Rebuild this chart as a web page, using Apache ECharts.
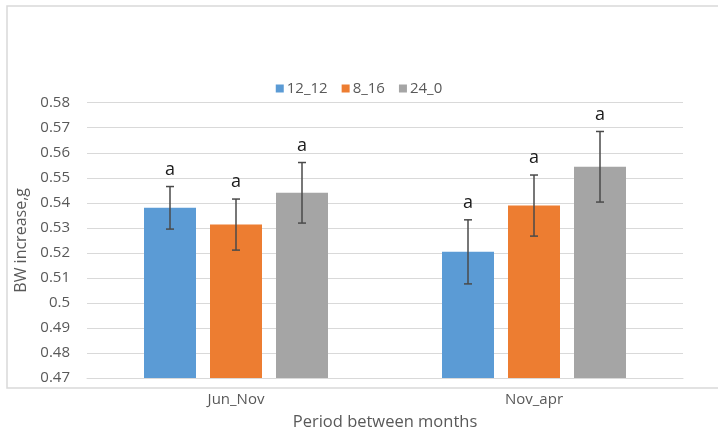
<!DOCTYPE html>
<html>
<head>
<meta charset="utf-8">
<script src="https://cdn.jsdelivr.net/npm/echarts@6/dist/echarts.min.js"></script>
<style>
  html, body { margin: 0; padding: 0; background: #fff; }
  #chart { width: 718px; height: 439px; }
</style>
</head>
<body>
<div id="chart"></div>
<script>
// Body-weight increase by photoperiod, per sampling period
const periods = ['Jun_Nov', 'Nov_apr'];
const seriesNames = ['12_12', '8_16', '24_0'];
const means12_12 = [0.538, 0.5204];
const means8_16 = [0.5313, 0.5389];
const means24_0 = [0.544, 0.5544];
const err12_12 = [0.0085, 0.0128];
const err8_16 = [0.0102, 0.0122];
const err24_0 = [0.0121, 0.0141];
const letters12_12 = ['a', 'a'];
const letters8_16 = ['a', 'a'];
const letters24_0 = ['a', 'a'];

const colors = ['#5b9bd5', '#ed7d31', '#a5a5a5'];
const means = [means12_12, means8_16, means24_0];
const errs = [err12_12, err8_16, err24_0];
const letters = [letters12_12, letters8_16, letters24_0];

const FONT = '"Open Sans", "Liberation Sans", sans-serif';
const BAR_W = 52;
const BAR_GAP = 14;

const chart = echarts.init(document.getElementById('chart'), null, { renderer: 'canvas' });

// Error bars plus significance letters, drawn beside their bar in each group
function errorSeries(k) {
  const data = periods.map((p, i) => [i, means[k][i] - errs[k][i], means[k][i] + errs[k][i], letters[k][i]]);
  return {
    type: 'custom',
    name: seriesNames[k] + ' err',
    z: 10,
    silent: true,
    data: data,
    encode: { x: 0, y: [1, 2] },
    renderItem: function (params, api) {
      const c = api.coord([api.value(0), api.value(2)]);
      const lo = api.coord([api.value(0), api.value(1)]);
      const offset = (k - 1) * (BAR_W + BAR_GAP);
      const x = c[0] + offset;
      const cap = 4;
      const style = { stroke: '#4a4a4a', lineWidth: 1.5 };
      return {
        type: 'group',
        children: [
          { type: 'line', shape: { x1: x, y1: c[1], x2: x, y2: lo[1] }, style: style },
          { type: 'line', shape: { x1: x - cap, y1: c[1], x2: x + cap, y2: c[1] }, style: style },
          { type: 'line', shape: { x1: x - cap, y1: lo[1], x2: x + cap, y2: lo[1] }, style: style },
          {
            type: 'text',
            style: {
              x: x, y: c[1] - 8,
              text: api.value(3),
              align: 'center', verticalAlign: 'bottom',
              font: '18px ' + FONT, fill: '#1a1a1a'
            }
          }
        ]
      };
    }
  };
}

const barSeries = seriesNames.map((name, k) => ({
  type: 'bar',
  name: name,
  data: means[k],
  barWidth: BAR_W,
  barGap: (BAR_GAP / BAR_W * 100) + '%',
  itemStyle: { color: colors[k] }
}));

chart.setOption({
  animation: false,
  backgroundColor: '#fff',
  color: colors,
  graphic: [{
    type: 'rect',
    shape: { x: 7, y: 6, width: 720, height: 382 },
    style: { fill: 'none', stroke: '#d9d9d9', lineWidth: 1.5 },
    silent: true
  }],
  legend: {
    data: seriesNames,
    top: 76,
    left: 'center',
    icon: 'rect',
    itemWidth: 8,
    itemHeight: 8,
    itemGap: 14,
    textStyle: { color: '#595959', fontSize: 15, fontFamily: FONT, padding: [0, 0, 0, -2] }
  },
  grid: { left: 87, right: 35, top: 102.7, bottom: 61 },
  xAxis: {
    type: 'category',
    data: periods,
    name: 'Period between months',
    nameLocation: 'middle',
    nameGap: 36,
    nameTextStyle: { color: '#595959', fontSize: 16.5, fontFamily: FONT },
    axisLine: { lineStyle: { color: '#d9d9d9', width: 1 } },
    axisTick: { show: false },
    axisLabel: { color: '#595959', fontSize: 15, fontFamily: FONT, margin: 14 }
  },
  yAxis: {
    type: 'value',
    min: 0.47,
    max: 0.58,
    interval: 0.01,
    name: 'BW increase,g',
    nameLocation: 'middle',
    nameGap: 50,
    nameTextStyle: { color: '#595959', fontSize: 16, fontFamily: FONT },
    axisLine: { show: false },
    axisTick: { show: false },
    axisLabel: { color: '#595959', fontSize: 15, fontFamily: FONT, margin: 17 },
    splitLine: { lineStyle: { color: '#d9d9d9', width: 1 } }
  },
  series: barSeries.concat([errorSeries(0), errorSeries(1), errorSeries(2)])
});
</script>
</body>
</html>
